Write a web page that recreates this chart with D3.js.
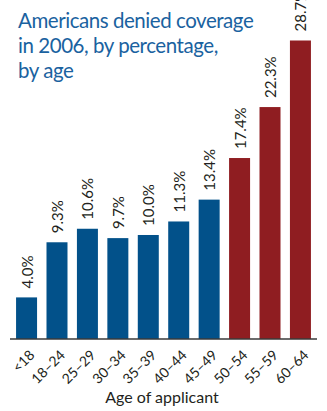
<!DOCTYPE html>
<html lang="en">
<head>
<meta charset="utf-8">
<title>Americans denied coverage</title>
<script src="https://cdn.jsdelivr.net/npm/d3@7"></script>
<style>
  body { margin: 0; background: #fff; }
  text { font-family: Lato, "Open Sans", sans-serif; }
</style>
</head>
<body>
<script>
// data
var ages = ["<18", "18\u201324", "25\u201329", "30\u201334", "35\u201339", "40\u201344", "45\u201349", "50\u201354", "55\u201359", "60\u201364"];
var pcts = [4.0, 9.3, 10.6, 9.7, 10.0, 11.3, 13.4, 17.4, 22.3, 28.7];
var groups = ["young", "young", "young", "young", "young", "young", "young", "old", "old", "old"];
var titleLines = ["Americans denied coverage", "in 2006, by percentage,", "by age"];

var w = 327, h = 411;
var base = 339;

var svg = d3.select("body").append("svg")
  .attr("width", w)
  .attr("height", h);

var x = d3.scaleBand()
  .domain(ages)
  .range([11.5, 315.5])
  .paddingInner(0.31)
  .paddingOuter(0.15);

var y = d3.scaleLinear()
  .domain([0, 28.7])
  .range([base, 40.5]);

var color = d3.scaleOrdinal()
  .domain(["young", "old"])
  .range(["#02518a", "#8f1d21"]);

// title
svg.append("text")
  .attr("x", 18)
  .attr("y", 28)
  .attr("fill", "#1a62a0")
  .style("font-size", "20.5px")
  .style("letter-spacing", "-0.45px")
  .selectAll("tspan")
  .data(titleLines)
  .enter()
  .append("tspan")
  .attr("x", 18)
  .attr("dy", function(d, i) { return i == 0 ? 0 : 25; })
  .text(function(d) { return d; });

// bars
svg.selectAll("rect.bar")
  .data(pcts)
  .enter()
  .append("rect")
  .attr("class", "bar")
  .attr("x", function(d, i) { return x(ages[i]); })
  .attr("y", function(d) { return y(d); })
  .attr("width", x.bandwidth())
  .attr("height", function(d) { return base - y(d); })
  .attr("fill", function(d, i) { return color(groups[i]); });

// value labels
svg.selectAll("text.val")
  .data(pcts)
  .enter()
  .append("text")
  .attr("class", "val")
  .attr("transform", function(d, i) {
    return "translate(" + (x(ages[i]) + x.bandwidth() / 2 + 6) + "," + (y(d) - 9) + ") rotate(-90)";
  })
  .attr("fill", "#231f20")
  .style("font-size", "15px")
  .text(function(d) { return d.toFixed(1) + "%"; });

// x axis
var xAxis = d3.axisBottom(x).tickSize(0).tickPadding(0);
var gx = svg.append("g")
  .attr("transform", "translate(0," + base + ")")
  .call(xAxis);
gx.select(".domain")
  .attr("d", "M10,0H317")
  .attr("stroke", "#3a3a3a")
  .attr("stroke-width", 1.5);
gx.selectAll(".tick text")
  .attr("fill", "#231f20")
  .style("font-size", "14px")
  .style("font-family", "Lato, sans-serif")
  .attr("text-anchor", "end")
  .attr("y", 0)
  .attr("dy", 0)
  .attr("transform", "translate(9,17) rotate(-45)");

// axis title
svg.append("text")
  .attr("x", 162)
  .attr("y", 403)
  .attr("text-anchor", "middle")
  .attr("fill", "#231f20")
  .style("font-size", "16px")
  .text("Age of applicant");
</script>
</body>
</html>
